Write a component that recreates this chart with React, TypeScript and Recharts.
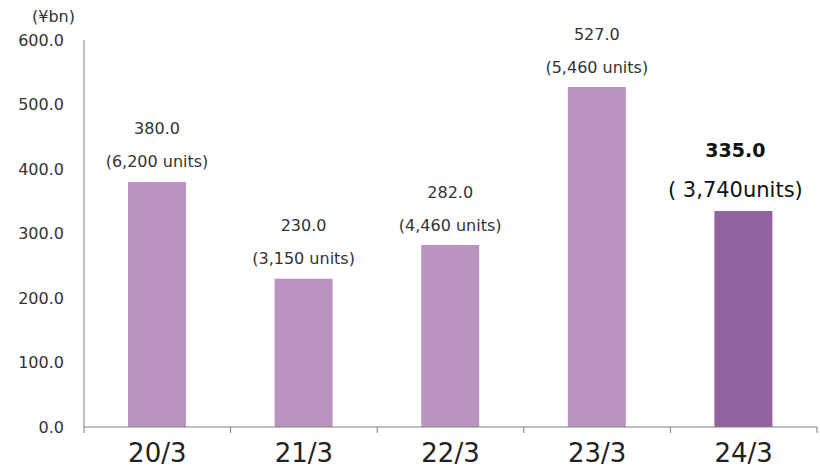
import { Bar, BarChart, Cell, LabelList, XAxis, YAxis } from 'recharts'

const periods = ['20/3', '21/3', '22/3', '23/3', '24/3']
const sales = [380.0, 230.0, 282.0, 527.0, 335.0]
const unitLabels = ['(6,200 units)', '(3,150 units)', '(4,460 units)', '(5,460 units)', '( 3,740units)']
const yTicks = [0, 100, 200, 300, 400, 500, 600]
const latestIndex = 4

const data = periods.map((period, i) => ({
  period,
  value: sales[i],
  units: unitLabels[i],
}))

const FONT = '"DejaVu Sans", Verdana, sans-serif'
const BAR_COLOR = '#b894bf'
const LATEST_COLOR = '#93639f'
const AXIS_COLOR = '#808080'

interface LabelProps {
  x?: number
  y?: number
  width?: number
  index?: number
}

function BarLabel({ x = 0, y = 0, width = 0, index = 0 }: LabelProps) {
  const latest = index === latestIndex
  const cx = x + width / 2 - (latest ? 8 : 0)
  return (
    <g fontFamily={FONT} textAnchor="middle">
      <text
        x={cx}
        y={y - (latest ? 61 : 53)}
        dominantBaseline="central"
        fontSize={latest ? 19 : 16}
        fontWeight={latest ? 'bold' : 'normal'}
        fill={latest ? '#111' : '#333'}
      >
        {sales[index].toFixed(1)}
      </text>
      <text
        x={cx}
        y={y - (latest ? 21 : 20)}
        dominantBaseline="central"
        fontSize={latest ? 21 : 16}
        fill={latest ? '#111' : '#333'}
      >
        {unitLabels[index]}
      </text>
    </g>
  )
}

interface TickProps {
  x?: number
  y?: number
  index?: number
  payload?: { value: string; offset?: number }
}

// ticks sit on the category boundaries, label in the middle
function PeriodTick({ x = 0, y = 0, index = 0, payload }: TickProps) {
  const half = payload?.offset ?? 0
  const axisY = y - 8
  return (
    <g>
      <line x1={x - half} x2={x - half} y1={axisY} y2={axisY + 6} stroke={AXIS_COLOR} />
      {index === periods.length - 1 && (
        <line x1={x + half} x2={x + half} y1={axisY} y2={axisY + 6} stroke={AXIS_COLOR} />
      )}
      <text
        x={x}
        y={axisY + 26}
        textAnchor="middle"
        dominantBaseline="central"
        fontFamily={FONT}
        fontSize={26}
        fill="#222"
      >
        {payload?.value}
      </text>
    </g>
  )
}

export default function App() {
  return (
    <div style={{ width: 820, height: 475, position: 'relative', background: '#fff' }}>
      <style>{'body{margin:0}'}</style>
      <div
        style={{
          position: 'absolute',
          left: 32,
          top: 7,
          fontFamily: FONT,
          fontSize: 16,
          color: '#333',
        }}
      >
        (¥bn)
      </div>
      <BarChart
        width={820}
        height={475}
        data={data}
        margin={{ top: 40, right: 3, bottom: 0, left: 0 }}
        barSize={58}
      >
        <XAxis
          dataKey="period"
          height={48}
          axisLine={{ stroke: AXIS_COLOR }}
          tickLine={false}
          tick={<PeriodTick />}
          interval={0}
        />
        <YAxis
          domain={[0, 600]}
          ticks={yTicks}
          width={84}
          axisLine={{ stroke: AXIS_COLOR }}
          tickLine={false}
          tickFormatter={(v: number) => v.toFixed(1)}
          tick={{ fill: '#333', fontSize: 16, fontFamily: FONT }}
          dx={-12}
        />
        <Bar dataKey="value" isAnimationActive={false}>
          {data.map((d, i) => (
            <Cell key={d.period} fill={i === latestIndex ? LATEST_COLOR : BAR_COLOR} />
          ))}
          <LabelList dataKey="value" content={<BarLabel />} />
        </Bar>
      </BarChart>
    </div>
  )
}
